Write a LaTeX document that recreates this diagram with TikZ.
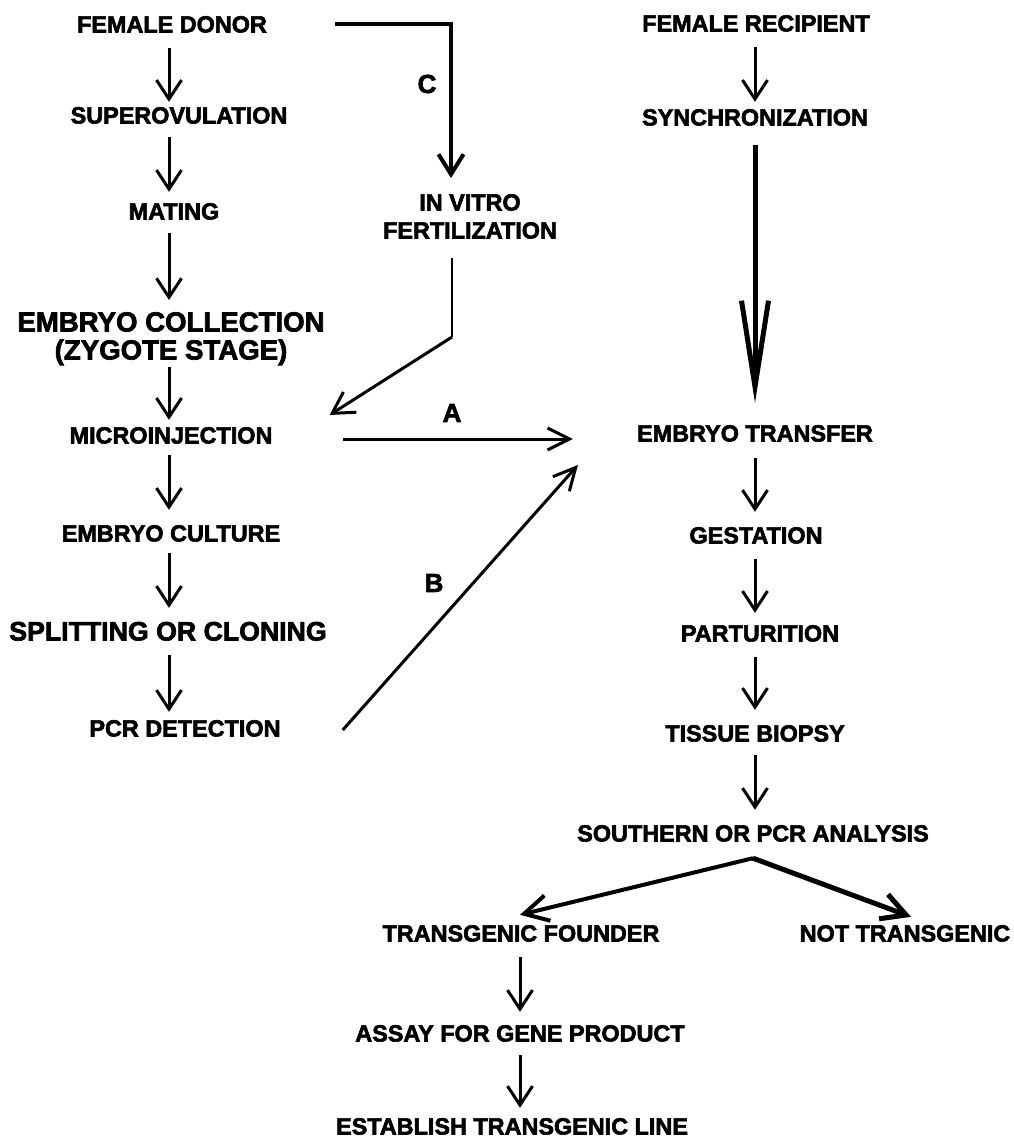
\documentclass[tikz,border=0pt]{standalone}
\usepackage{fontspec}
\setmainfont{Liberation Sans}[BoldFeatures={FakeBold=2.5}]
\usetikzlibrary{arrows.meta}
\tikzset{
  lbl/.style={inner sep=0pt, text height=17pt, text depth=0pt,
    font=\bfseries\fontsize{23.4}{28}\selectfont},
  biglbl/.style={inner sep=0pt, text height=17pt, text depth=0pt,
    font=\bfseries\fontsize{26.7}{28}\selectfont},
  twolbl/.style={inner sep=0pt, align=center, anchor=north,
    font=\bfseries\fontsize{23.4}{28}\selectfont},
  tag/.style={inner sep=0pt, font=\bfseries\fontsize{26}{30}\selectfont},
  arr/.style={line width=3pt, -{Straight Barb[length=19pt,width=25pt]}},
  bigarr/.style={line width=5pt, -{Straight Barb[length=86pt,width=27pt]}},
}
\begin{document}
\begin{tikzpicture}[x=1pt,y=-1pt]
\path[use as bounding box, fill=white] (0,0) rectangle (1013,1139);

% column lines
\coordinate (L) at (169,0);
\coordinate (R) at (755,0);
\coordinate (Bt) at (520,0);

% left column
\node[lbl] (fd) at (172,24) {FEMALE DONOR};
\node[lbl] (sup) at (179,115) {SUPEROVULATION};
\node[lbl] (mat) at (174,211) {MATING};
\node[twolbl, font=\bfseries\fontsize{27.6}{28}\selectfont] (ec) at (171,312) {EMBRYO COLLECTION\\(ZYGOTE STAGE)};
\node[lbl] (mic) at (171,435) {MICROINJECTION};
\node[lbl] (cul) at (171,533) {EMBRYO CULTURE};
\node[biglbl] (spl) at (168,632) {SPLITTING OR CLONING};
\node[lbl] (pcr) at (185,728) {PCR DETECTION};

% middle
\node[twolbl] (ivf) at (470,194) {IN VITRO\\FERTILIZATION};
\node[tag] (tC) at (427,84) {C};
\node[tag] (tA) at (452,413) {A};
\node[tag] (tB) at (434,583) {B};

% right column
\node[lbl] (fr) at (756,23) {FEMALE RECIPIENT};
\node[lbl] (syn) at (755,117) {SYNCHRONIZATION};
\node[lbl] (et) at (755,433) {EMBRYO TRANSFER};
\node[lbl] (ges) at (756,535) {GESTATION};
\node[lbl] (par) at (760,633) {PARTURITION};
\node[lbl] (tb) at (755,733) {TISSUE BIOPSY};
\node[lbl] (sa) at (753,833) {SOUTHERN OR PCR ANALYSIS};
\node[lbl] (tf) at (521,933) {TRANSGENIC FOUNDER};
\node[lbl] (nt) at (905,933) {NOT TRANSGENIC};
\node[lbl] (as) at (520,1033) {ASSAY FOR GENE PRODUCT};
\node[lbl] (est) at (512,1126) {ESTABLISH TRANSGENIC LINE};

% left column arrows
\draw[arr, shorten <=15.5pt, shorten >=4.5pt] (fd.south -| L) -- (sup.north -| L);
\draw[arr, shorten <=13.5pt, shorten >=10.5pt] (sup.south -| L) -- (mat.north -| L);
\draw[arr, shorten <=13.5pt, shorten >=12pt] (mat.south -| L) -- (ec.north -| L);
\draw[arr, shorten <=2pt, shorten >=6.5pt] (ec.south -| L) -- (mic.north -| L);
\draw[arr, shorten <=11.5pt, shorten >=14.5pt] (mic.south -| L) -- (cul.north -| L);
\draw[arr, shorten <=11.5pt, shorten >=15.5pt] (cul.south -| L) -- (spl.north -| L);
\draw[arr, shorten <=14.5pt, shorten >=7.5pt] (spl.south -| L) -- (pcr.north -| L);

% right column arrows
\draw[arr, shorten <=15.5pt, shorten >=6.5pt] (fr.south -| R) -- (syn.north -| R);
\draw[bigarr, shorten <=19.5pt, shorten >=21.5pt] (syn.south -| R) -- (et.north -| R);
\draw[arr, shorten <=16.5pt, shorten >=14.5pt] (et.south -| R) -- (ges.north -| R);
\draw[arr, shorten <=15.5pt, shorten >=11.5pt] (ges.south -| R) -- (par.north -| R);
\draw[arr, shorten <=15.5pt, shorten >=14.5pt] (par.south -| R) -- (tb.north -| R);
\draw[arr, shorten <=13.5pt, shorten >=14.5pt] (tb.south -| R) -- (sa.north -| R);

% branch
\draw[arr, line width=4pt, -{Straight Barb[length=24pt,width=26pt]}]
  ([yshift=-16.5pt]sa.south) -- ([xshift=-1pt,yshift=9.5pt]tf.north);
\draw[arr, line width=5pt, -{Straight Barb[length=24pt,width=26pt]}]
  ([yshift=-16.5pt]sa.south) -- ([xshift=6pt,yshift=7.5pt]nt.north);

% bottom arrows
\draw[arr, shorten <=15.5pt, shorten >=12.5pt] (tf.south -| Bt) -- (as.north -| Bt);
\draw[arr, shorten <=13.5pt, shorten >=9.5pt] (as.south -| Bt) -- (est.north -| Bt);

% C path
\draw[arr, line width=4pt, -{Straight Barb[length=20pt,width=25pt]}]
  ([xshift=68pt]fd.east) -| ([xshift=-19pt,yshift=16pt]ivf.north);

% fertilization to microinjection
\coordinate (fbend) at (452,337);
\draw[line width=2pt] ([xshift=-18pt,yshift=-19pt]ivf.south) -- (fbend);
\draw[arr, line width=3pt, -{Straight Barb[length=21pt,width=24pt]}]
  (fbend) -- ([xshift=57pt,yshift=20pt]mic.east);

% A and B
\draw[arr, -{Straight Barb[length=22pt,width=22pt]}]
  ([xshift=70pt,yshift=-4pt]mic.east) -- ([xshift=-64pt,yshift=-6pt]et.west);
\draw[arr, -{Straight Barb[length=22pt,width=22pt]}]
  ([xshift=62pt,yshift=-2pt]pcr.east) -- ([xshift=-59pt,yshift=-32pt]et.west);
\end{tikzpicture}
\end{document}
